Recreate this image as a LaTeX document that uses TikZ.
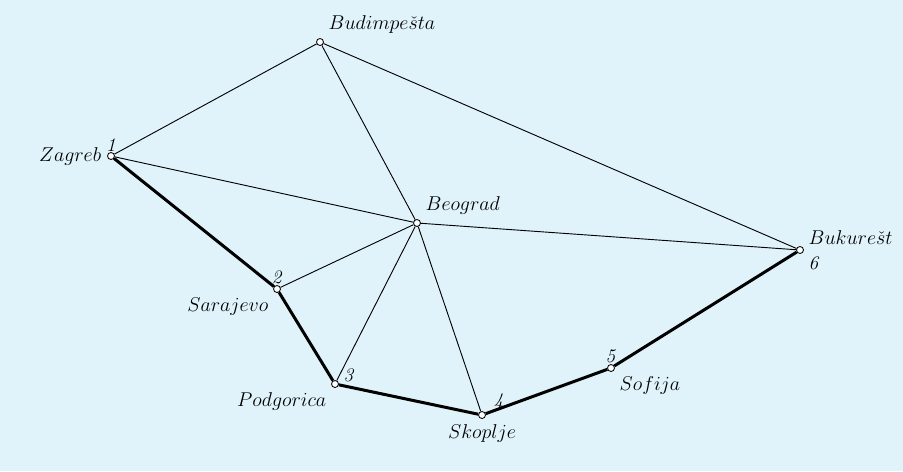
\documentclass[tikz,border=0pt]{standalone}
\usepackage{amsmath}
\definecolor{bgblue}{RGB}{224,243,250}
\begin{document}
\begin{tikzpicture}[x=0.6pt, y=-0.6pt,
    every label/.style = {font=\fontsize{11.5}{13}\selectfont},
    city/.style = {circle, draw, fill=white, inner sep=0pt, minimum size=4.2pt, line width=0.5pt},
    road/.style = {line width=0.55pt},
    route/.style = {line width=1.8pt}]
   \fill[bgblue] (0,0) rectangle (903,471);
   \useasboundingbox (0,0) rectangle (903,471);
   \node[city, label=left:$Zagreb$, label={[yshift=-3pt]above:\textit{1}}] (ZG) at (111,156) {};
   \node[city, label=above right:$Budimpe\check{s}ta$] (BP) at (320,42) {};
   \node[city, label=above right:$Beograd$] (BG) at (417,223) {};
   \node[city, label={[yshift=-2pt]above right:$Bukure\check{s}t$}, label={[yshift=1pt]below right:\textit{6}}] (BU) at (800,250) {};
   \node[city, label=below left:$Sarajevo$, label={[yshift=-3pt]above:\textit{2}}] (SA) at (277,289) {};
   \node[city, label=below left:$Podgorica$, label={[yshift=-4pt]above right:\textit{3}}] (PG) at (335,384) {};
   \node[city, label=below:$Skoplje$, label={[xshift=2pt, yshift=-2.5pt]above right:\textit{4}}] (SK) at (482,415) {};
   \node[city, label=below right:$Sofija$, label={[yshift=-3pt]above:\textit{5}}] (SF) at (611,368) {};
   \draw[road] (ZG) -- (BP);
   \draw[road] (ZG) -- (BG);
   \draw[road] (BP) -- (BG);
   \draw[road] (BP) -- (BU);
   \draw[road] (BG) -- (BU);
   \draw[road] (BG) -- (SA);
   \draw[road] (BG) -- (PG);
   \draw[road] (BG) -- (SK);
   \draw[route] (ZG) -- (SA) -- (PG) -- (SK) -- (SF) -- (BU);
\end{tikzpicture}
\end{document}
